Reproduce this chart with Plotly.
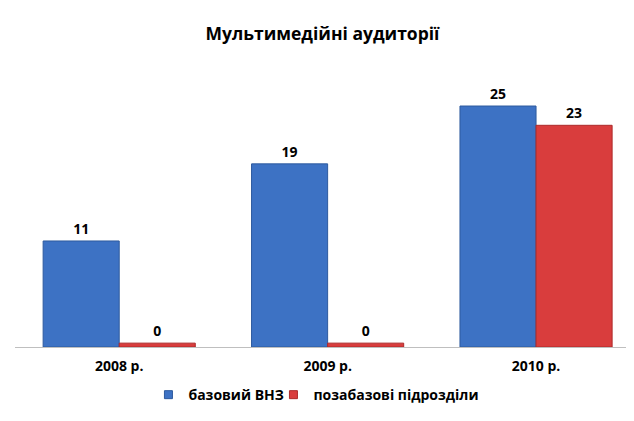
import plotly.graph_objects as go

years = ["2008 р.", "2009 р.", "2010 р."]
base_univ = [11, 19, 25]
outside_units = [0, 0, 23]
series_names = ["базовий ВНЗ", "позабазові підрозділи"]

# zero bars are drawn as a thin strip so they stay visible, like in the original
MIN_VISIBLE = 0.4
BLUE, BLUE_EDGE = "#3d72c4", "#2d5a9e"
RED, RED_EDGE = "#d93d3d", "#ad2a2a"
font_main = "Open Sans"


def shown(vals):
    return [max(v, MIN_VISIBLE) for v in vals]


fig = go.Figure()
for i, (vals, name, col, edge) in enumerate([(base_univ, series_names[0], BLUE, BLUE_EDGE),
                                             (outside_units, series_names[1], RED, RED_EDGE)]):
    fig.add_trace(go.Bar(
        x=years, y=shown(vals), name=name, showlegend=False,
        text=vals, textposition="outside", cliponaxis=False,
        textfont=dict(family=font_main, size=14, color="#000000", weight="bold"),
        marker=dict(color=col, line=dict(color=edge, width=1)),
    ))
    # small square legend keys
    fig.add_trace(go.Scatter(
        x=[None], y=[None], mode="markers", name=name,
        legendwidth=80 if i == 0 else None,
        marker=dict(symbol="square", size=8, color=col, line=dict(color=edge, width=1)),
    ))

fig.update_layout(
    width=634, height=421,
    margin=dict(l=7, r=8, t=72, b=82),
    paper_bgcolor="white", plot_bgcolor="white",
    title=dict(text="<b>Мультимедійні аудиторії</b>", x=0.496, xanchor="center",
               y=0.953, yanchor="top",
               font=dict(family=font_main, size=17.5, color="#000000")),
    barmode="group", bargap=0.27, bargroupgap=0,
    showlegend=True,
    legend=dict(orientation="h", x=0.487, xanchor="center", y=-0.18, yanchor="middle",
                font=dict(family=font_main, size=14, color="#000000", weight="bold"),
                itemwidth=30, tracegroupgap=0),
    xaxis=dict(range=[-0.5, 2.47], showline=True, linecolor="#bfbfbf", linewidth=1,
               ticks="", ticklabelstandoff=6,
               tickfont=dict(family=font_main, size=14, color="#000000", weight="bold")),
    yaxis=dict(range=[0, 27.7], visible=False, showgrid=False),
)

fig.write_html("out.html")
